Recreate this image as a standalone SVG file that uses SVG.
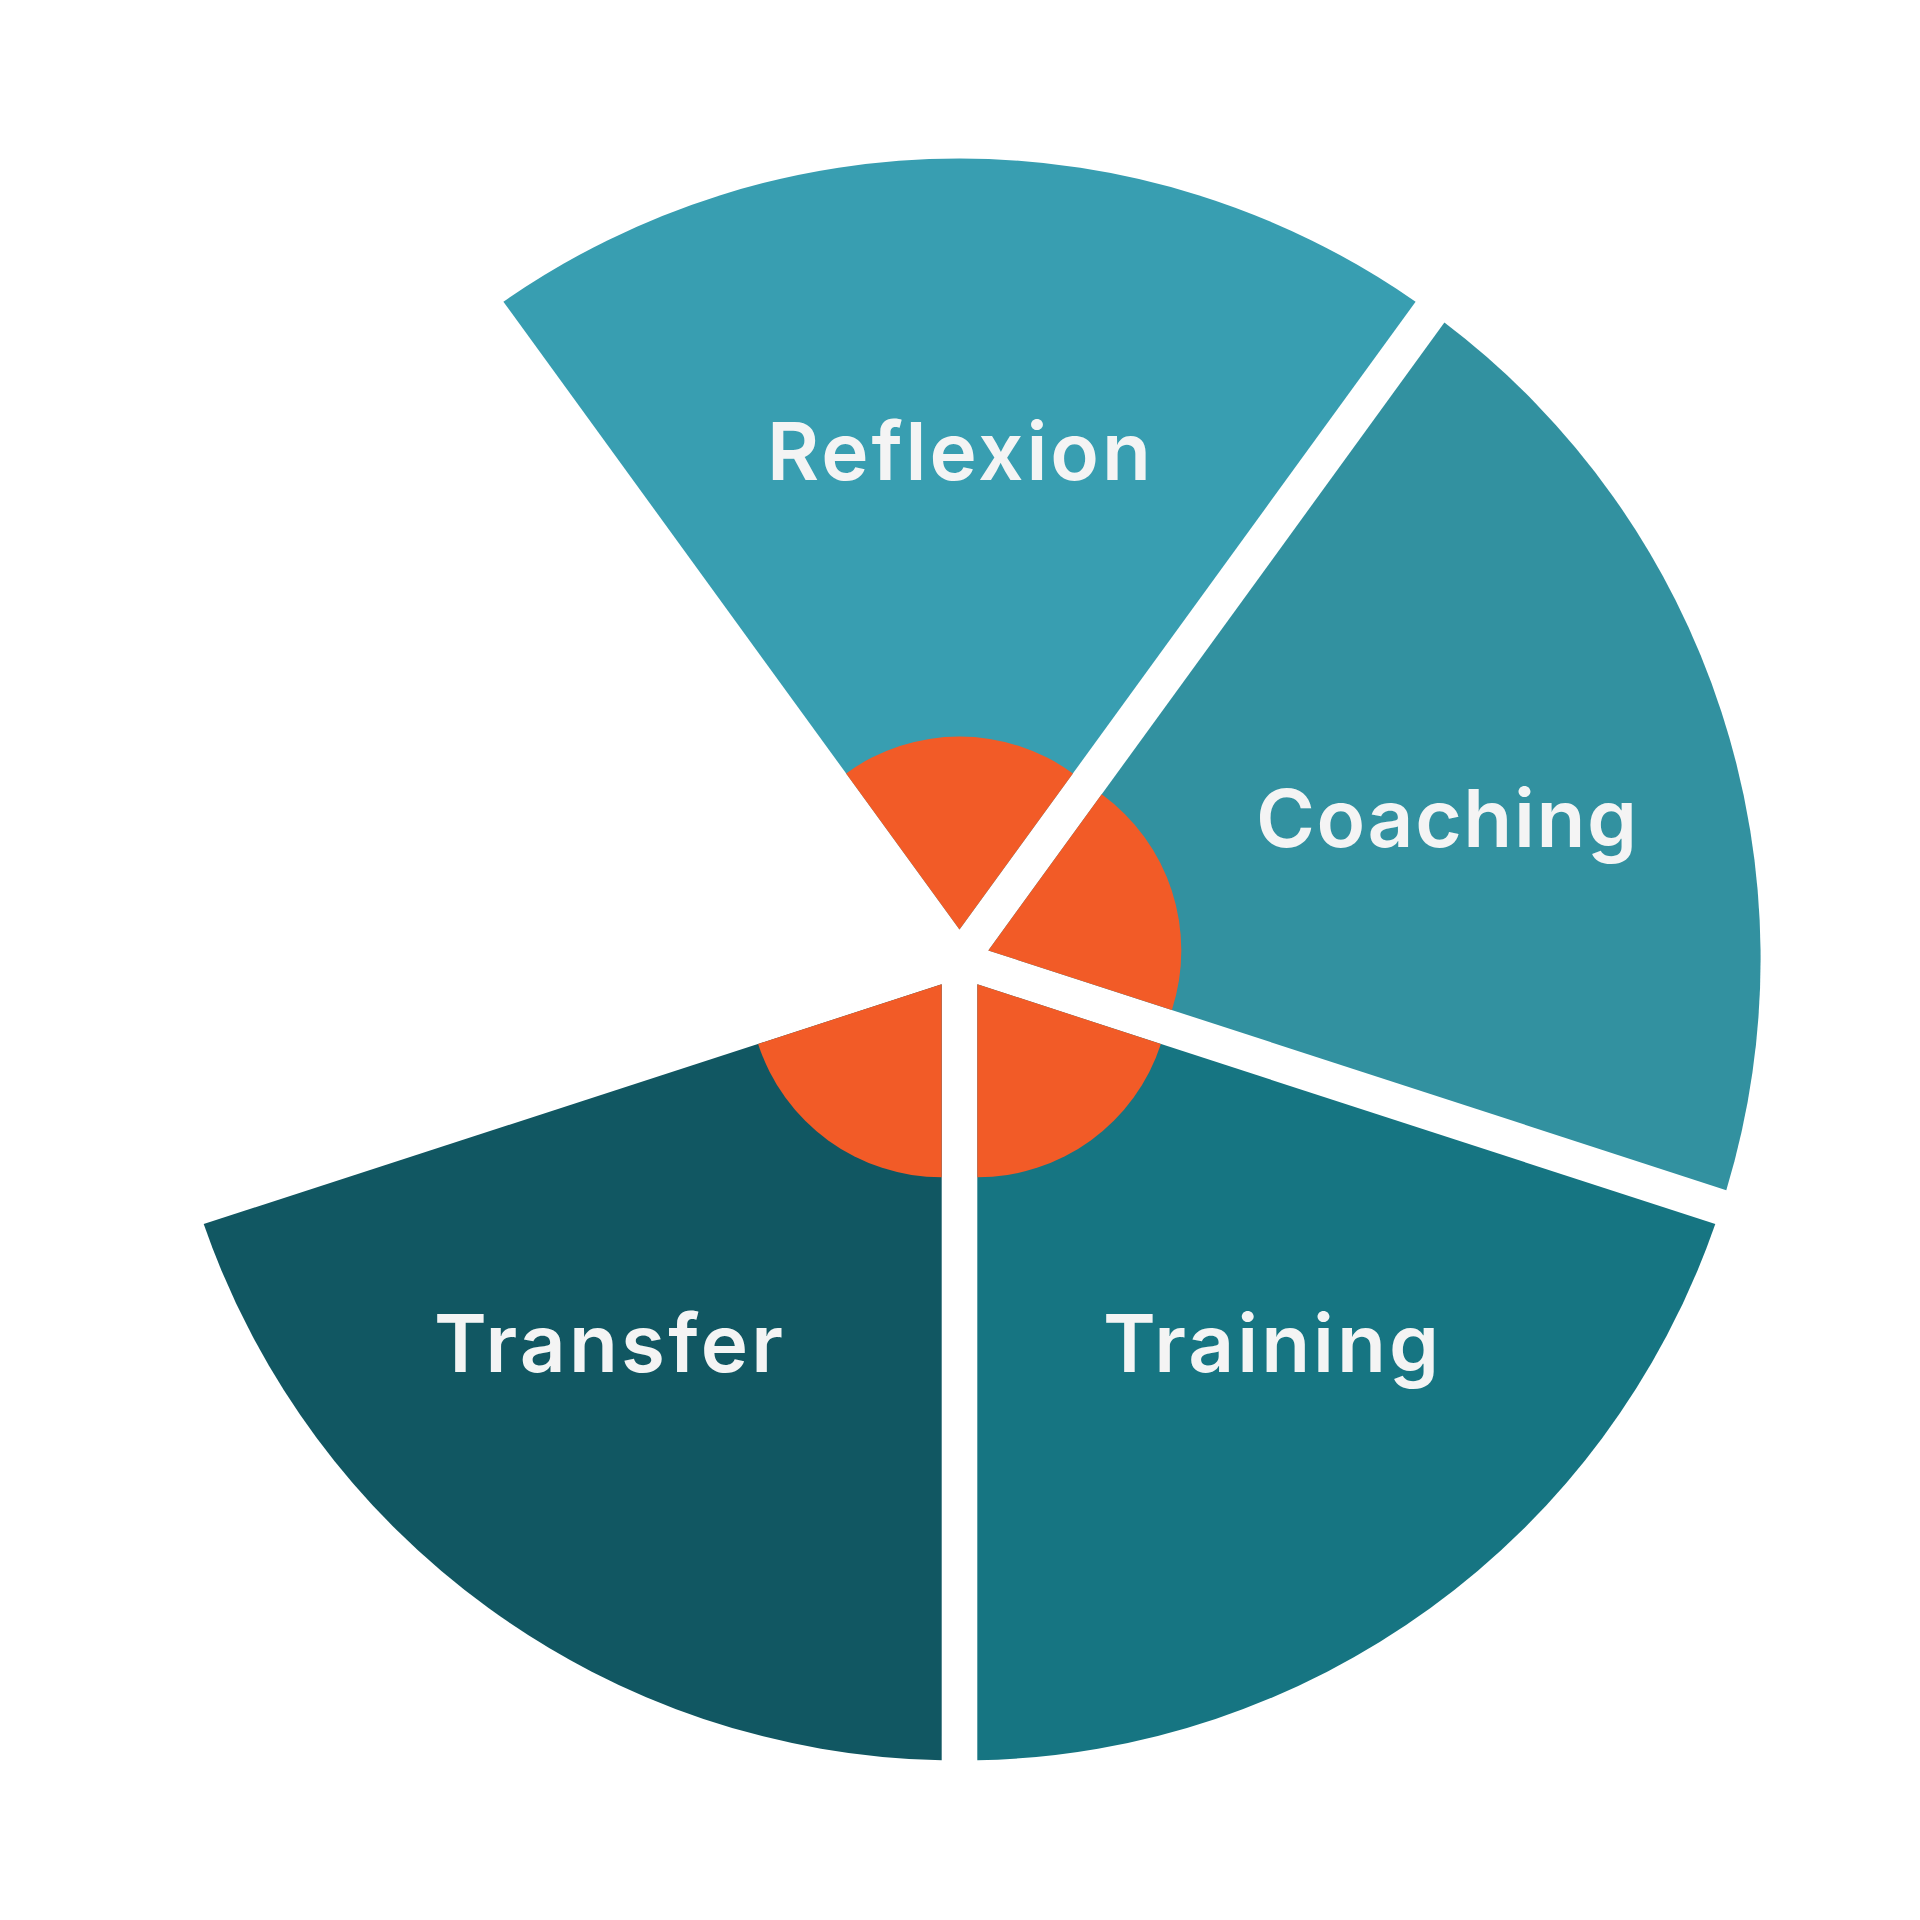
<svg xmlns="http://www.w3.org/2000/svg" width="1920" height="1920" viewBox="0 0 1920 1920">
<style>
.lbl{font-family:Inter,"Open Sans","Liberation Sans",sans-serif;font-weight:600;font-size:80px;fill:#F4F4F4}
.core{fill:#F25B27}
</style>
<rect width="1920" height="1920" fill="#FFFFFF"/>
<g id="reflexion">
<path d="M959.5 929.5 L503.4 301.7 A798 798 0 0 1 1415.6 301.7 Z" fill="#389EB1"/>
<path class="core" d="M959.5 929.5 L846.1 773.4 A193 193 0 0 1 1072.9 773.4 Z"/>
<text class="lbl" x="767" y="480" textLength="384" lengthAdjust="spacing">Reflexion</text>
</g>
<g id="coaching">
<path d="M988.3 950.4 L1444.4 322.6 A798 798 0 0 1 1726.3 1190.2 Z" fill="#3291A0"/>
<path class="core" d="M988.3 950.4 L1101.7 794.3 A193 193 0 0 1 1171.9 1010 Z"/>
<text class="lbl" x="1256" y="847" textLength="381" lengthAdjust="spacing">Coaching</text>
</g>
<g id="training">
<path d="M977.3 984.3 L1715.3 1224.1 A798 798 0 0 1 977.3 1760.3 Z" fill="#167582"/>
<path class="core" d="M977.3 984.3 L1160.9 1043.9 A193 193 0 0 1 977.3 1177.3 Z"/>
<text class="lbl" x="1103" y="1372" textLength="336" lengthAdjust="spacing">Training</text>
</g>
<g id="transfer">
<path d="M941.7 984.3 L941.7 1760.3 A798 798 0 0 1 203.7 1224.1 Z" fill="#115762"/>
<path class="core" d="M941.7 984.3 L941.7 1177.3 A193 193 0 0 1 758.1 1043.9 Z"/>
<text class="lbl" x="434" y="1372" textLength="349" lengthAdjust="spacing">Transfer</text>
</g>
<g id="connectors"></g>
</svg>
